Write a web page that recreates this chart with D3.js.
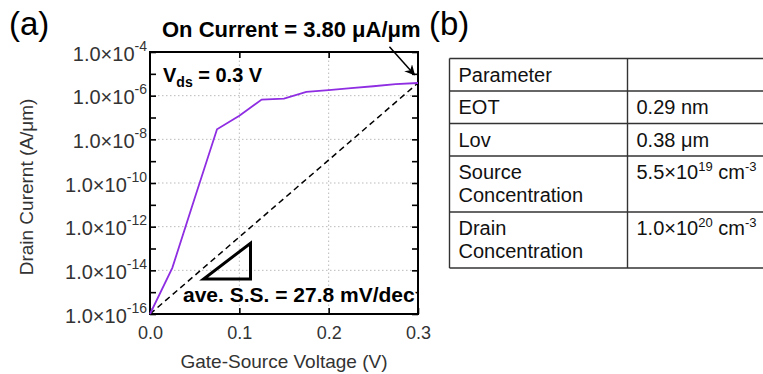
<!DOCTYPE html>
<html>
<head>
<meta charset="utf-8">
<script src="https://cdn.jsdelivr.net/npm/d3@7"></script>
<style>
  body { margin: 0; background: #fff; }
  svg { display: block; font-family: "Liberation Sans", Arial, Helvetica, sans-serif; }
</style>
</head>
<body>
<div id="container"></div>
<script>
/* CONSTANTS AND GLOBALS */
const width = 763,
  height = 374,
  margin = {top: 52, left: 150, bottom: 60, right: 345};

/* DATA */
const vgs = [0, 0.025, 0.05, 0.075, 0.1, 0.125, 0.15, 0.175, 0.2, 0.225, 0.25, 0.275, 0.3];
const idrain = [1e-16, 1.3e-14, 2e-11, 2.9e-8, 1.2e-7, 6.6e-7, 7.3e-7, 1.5e-6, 1.8e-6, 2.2e-6, 2.7e-6, 3.4e-6, 3.8e-6];
const ssLineX = [0, 0.3];
const ssLineY = [1e-16, 3.8e-6];
const triangleX = [0.06, 0.1125, 0.1125];
const triangleY = [4e-15, 4e-15, 1.75e-13];
const xTicks = [0, 0.1, 0.2, 0.3];
const yMajorExp = [-16, -14, -12, -10, -8, -6, -4];
const yMinorExp = [-15, -13, -11, -9, -7, -5];
const onCurrentLabel = "On Current = 3.80 μA/μm";
const vdsLabel = ["V", "ds", " = 0.3 V"];
const ssLabel = "ave. S.S. = 27.8 mV/dec";
const arrowTip = [0.296, 9e-6];
const tableParams = ["Parameter", "EOT", "Lov", "Source Concentration", "Drain Concentration"];
const tableValues = ["", "0.29 nm", "0.38 μm", "5.5×10^19 cm^-3", "1.0×10^20 cm^-3"];

const pow10 = e => +("1e" + e);

// SCALES
const xScale = d3.scaleLinear()
  .domain([0, 0.3])
  .range([margin.left, width - margin.right]);

const yScale = d3.scaleLog()
  .domain([1e-16, 1e-4])
  .range([height - margin.bottom, margin.top]);

// CREATE SVG ELEMENT
const svg = d3.select("#container")
  .append("svg")
  .attr("width", width)
  .attr("height", height);

svg.append("defs").append("marker")
  .attr("id", "arrow")
  .attr("viewBox", "0 0 10 10")
  .attr("refX", 9).attr("refY", 5)
  .attr("markerWidth", 7).attr("markerHeight", 7)
  .attr("orient", "auto")
  .append("path")
  .attr("d", "M0,0 L10,5 L0,10 L3,5 Z")
  .attr("fill", "#000");

// GRID
const grid = svg.append("g")
  .attr("stroke", "#bbb")
  .attr("stroke-dasharray", "1.5,2.5");
grid.selectAll(".hgrid")
  .data(yMajorExp.slice(1, -1))
  .join("line")
  .attr("class", "hgrid")
  .attr("x1", xScale(0)).attr("x2", xScale(0.3))
  .attr("y1", d => yScale(pow10(d))).attr("y2", d => yScale(pow10(d)));
grid.selectAll(".vgrid")
  .data(xTicks.slice(1, -1))
  .join("line")
  .attr("class", "vgrid")
  .attr("x1", d => xScale(d)).attr("x2", d => xScale(d))
  .attr("y1", yScale(1e-16)).attr("y2", yScale(1e-4));

// BUILD AND CALL AXES
const allY = yMajorExp.concat(yMinorExp).map(pow10);
const noDomain = g => g.select(".domain").remove();

const yAxis = d3.axisLeft(yScale)
  .tickValues(yMajorExp.map(pow10))
  .tickSizeInner(-6).tickSizeOuter(0)
  .tickPadding(3)
  .tickFormat("");
const yLeft = svg.append("g")
  .attr("transform", `translate(${margin.left},0)`)
  .call(yAxis)
  .call(noDomain);
yLeft.selectAll(".tick text")
  .attr("fill", "#333")
  .attr("font-size", 20)
  .attr("dy", "0.4em")
  .each(function(d) {
    const t = d3.select(this);
    t.append("tspan").text("1.0×10");
    t.append("tspan").attr("font-size", 14).attr("dy", -10).text(Math.round(Math.log10(d)));
  });

svg.append("g")
  .attr("transform", `translate(${margin.left},0)`)
  .call(d3.axisLeft(yScale).tickValues(yMinorExp.map(pow10)).tickSizeInner(-6).tickSizeOuter(0).tickFormat(""))
  .call(noDomain);

svg.append("g")
  .attr("transform", `translate(${width - margin.right},0)`)
  .call(d3.axisRight(yScale).tickValues(allY).tickSizeInner(-6).tickSizeOuter(0).tickFormat(""))
  .call(noDomain);

svg.append("g")
  .attr("transform", `translate(0,${margin.top})`)
  .call(d3.axisTop(xScale).tickValues(xTicks.slice(1, -1)).tickSizeInner(-6).tickSizeOuter(0).tickFormat(""))
  .call(noDomain);

const xAxis = svg.append("g")
  .attr("transform", `translate(0,${height - margin.bottom})`)
  .call(d3.axisBottom(xScale).tickValues(xTicks).tickSizeInner(-6).tickSizeOuter(0).tickPadding(12).tickFormat(d3.format(".1f")))
  .call(noDomain);
xAxis.selectAll(".tick text")
  .attr("fill", "#333")
  .attr("font-size", 18);

svg.selectAll(".tick line").attr("stroke-width", 1.6);

// FRAME
svg.append("rect")
  .attr("x", xScale(0)).attr("y", yScale(1e-4))
  .attr("width", xScale(0.3) - xScale(0))
  .attr("height", yScale(1e-16) - yScale(1e-4))
  .attr("fill", "none")
  .attr("stroke", "#000")
  .attr("stroke-width", 2);

// AXIS TITLES
svg.append("text")
  .attr("x", (xScale(0) + xScale(0.3)) / 2)
  .attr("y", 368)
  .attr("text-anchor", "middle")
  .attr("font-size", 19)
  .attr("fill", "#333")
  .text("Gate-Source Voltage (V)");

svg.append("text")
  .attr("transform", "translate(33,187) rotate(-90)")
  .attr("text-anchor", "middle")
  .attr("font-size", 19)
  .attr("fill", "#333")
  .text("Drain Curernt (A/μm)");

// SUBTHRESHOLD REFERENCE LINE
const lineGen = d3.line()
  .x(d => xScale(d[0]))
  .y(d => yScale(d[1]));

svg.append("path")
  .attr("d", lineGen(d3.zip(ssLineX, ssLineY)))
  .attr("stroke", "#000")
  .attr("stroke-width", 1.5)
  .attr("stroke-dasharray", "6,4")
  .attr("fill", "none");

// DRAW CURVE
svg.append("path")
  .attr("d", lineGen(d3.zip(vgs, idrain)))
  .attr("stroke", "#8e2de2")
  .attr("stroke-width", 1.8)
  .attr("fill", "none");

// SLOPE TRIANGLE
svg.append("path")
  .attr("d", lineGen(d3.zip(triangleX, triangleY)) + "Z")
  .attr("stroke", "#000")
  .attr("stroke-width", 3)
  .attr("fill", "none");

// ANNOTATIONS
svg.append("text")
  .attr("x", 183).attr("y", 302)
  .attr("font-size", 21)
  .attr("font-weight", "bold")
  .attr("stroke", "#fff").attr("stroke-width", 4)
  .attr("paint-order", "stroke")
  .attr("stroke-linejoin", "round")
  .text(ssLabel);

const vds = svg.append("text")
  .attr("x", 163).attr("y", 82)
  .attr("font-size", 20)
  .attr("font-weight", "bold");
vds.append("tspan").text(vdsLabel[0]);
vds.append("tspan").attr("font-size", 14).attr("dy", 5).text(vdsLabel[1]);
vds.append("tspan").attr("dy", -5).text(vdsLabel[2]);

svg.append("text")
  .attr("x", 162).attr("y", 37)
  .attr("font-size", 22)
  .attr("font-weight", "bold")
  .text(onCurrentLabel);

svg.append("line")
  .attr("x1", xScale(arrowTip[0]) - 25).attr("y1", yScale(arrowTip[1]) - 28)
  .attr("x2", xScale(arrowTip[0])).attr("y2", yScale(arrowTip[1]))
  .attr("stroke", "#000")
  .attr("stroke-width", 1.5)
  .attr("marker-end", "url(#arrow)");

svg.append("text").attr("x", 9).attr("y", 35).attr("font-size", 33).text("(a)");
svg.append("text").attr("x", 429).attr("y", 35).attr("font-size", 33).text("(b)");

// TABLE
const tableLeft = 449.5, tableCol = 627.5, tableTop = 58.5, lineH = 23.3;
const rowLines = tableParams.map(p => p.split(" ").length);
const rowHeights = rowLines.map(n => n === 1 ? 32.5 : 56);
const rowTops = rowHeights.map((h, i) => tableTop + d3.sum(rowHeights.slice(0, i)));
const tableBottom = tableTop + d3.sum(rowHeights);

const table = svg.append("g");
table.selectAll(".hline")
  .data(rowTops.concat([tableBottom]))
  .join("line")
  .attr("x1", tableLeft).attr("x2", width)
  .attr("y1", d => d).attr("y2", d => d)
  .attr("stroke", "#333").attr("stroke-width", 1.4);
table.selectAll(".vline")
  .data([tableLeft, tableCol])
  .join("line")
  .attr("x1", d => d).attr("x2", d => d)
  .attr("y1", tableTop).attr("y2", tableBottom)
  .attr("stroke", "#333").attr("stroke-width", 1.4);

tableParams.forEach((p, i) => {
  const t = table.append("text")
    .attr("x", tableLeft + 9)
    .attr("y", rowTops[i] + 23)
    .attr("font-size", 20)
    .attr("fill", "#111");
  p.split(" ").forEach((w, j) => {
    t.append("tspan").attr("x", tableLeft + 9).attr("dy", j === 0 ? 0 : lineH).text(w);
  });
});

tableValues.forEach((v, i) => {
  const t = table.append("text")
    .attr("x", tableCol + 9)
    .attr("y", rowTops[i] + 23)
    .attr("font-size", 20)
    .attr("fill", "#111");
  // "^" marks a superscript up to the next space
  v.split(/(\^\S+)/).filter(s => s.length).forEach(s => {
    if (s[0] === "^") {
      t.append("tspan").attr("font-size", 13).attr("dy", -8).text(s.slice(1));
    } else {
      const prev = t.select("tspan:last-child");
      const sup = !prev.empty() && +prev.attr("font-size") === 13;
      t.append("tspan").attr("dy", sup ? 8 : 0).text(s);
    }
  });
});
</script>
</body>
</html>
